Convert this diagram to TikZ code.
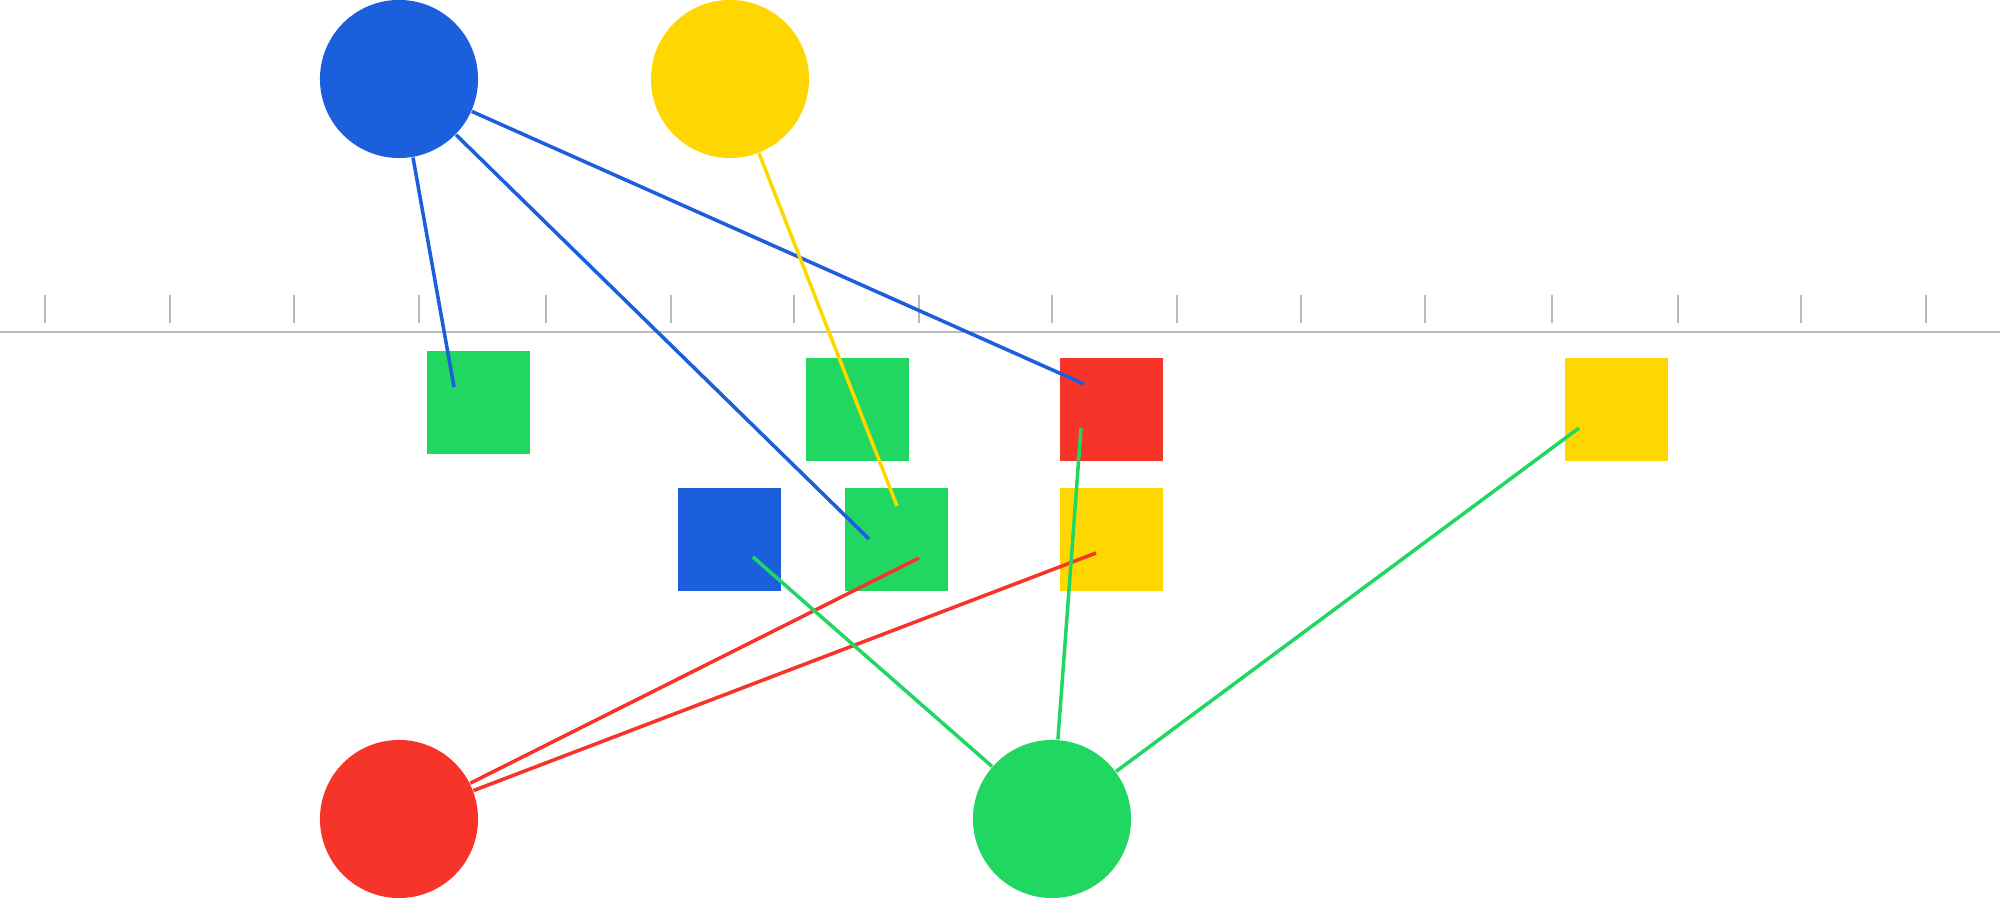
\documentclass[tikz,border=0pt]{standalone}

\definecolor{dotblue}{HTML}{1B5FDC}
\definecolor{dotyellow}{HTML}{FFD700}
\definecolor{dotred}{HTML}{F63429}
\definecolor{dotgreen}{HTML}{20D762}
\definecolor{axisgray}{HTML}{BBBBBB}

\begin{document}
\begin{tikzpicture}[x=0.01cm, y=-0.01cm,
        dot/.style={circle, fill=#1, inner sep=0pt, minimum size=1.58cm},
        box/.style={rectangle, fill=#1, inner sep=0pt, minimum size=1.03cm},
        link/.style={draw=#1, line width=1pt},
        axisline/.style={draw=axisgray, line width=0.55pt}]
            \useasboundingbox (0,0) rectangle (2000,898);

            % axis with ticks
            \draw[axisline] (0,332) -- (2000,332);
            \foreach \x in {45,170,294,419,546,671,794,919,1052,1177,1301,1425,1552,1678,1801,1926}
                \draw[axisline] (\x,295) -- (\x,323);

            % circles
            \node[dot=dotblue]   (cb) at (399,79)  {};
            \node[dot=dotyellow] (cy) at (730,79)  {};
            \node[dot=dotred]    (cr) at (399,819) {};
            \node[dot=dotgreen]  (cg) at (1052,819) {};

            % squares
            \node[box=dotgreen]  (sg1) at (478.5,402.5) {};
            \node[box=dotgreen]  (sg2) at (857.5,409.5) {};
            \node[box=dotred]    (sr)  at (1111.5,409.5) {};
            \node[box=dotyellow] (sy2) at (1616.5,409.5) {};
            \node[box=dotblue]   (sb)  at (729.5,539.5) {};
            \node[box=dotgreen]  (sg3) at (896.5,539.5) {};
            \node[box=dotyellow] (sy1) at (1111.5,539.5) {};

            % line ends inside the squares
            \coordinate (eb1) at (454,387);
            \coordinate (eb2) at (869,539);
            \coordinate (eb3) at (1084,384);
            \coordinate (ey1) at (897,506);
            \coordinate (er1) at (919,558);
            \coordinate (er2) at (1096,553);
            \coordinate (eg1) at (753,557);
            \coordinate (eg2) at (1081,428);
            \coordinate (eg3) at (1579,428);

            \draw[link=dotblue] (cb) -- (eb1);
            \draw[link=dotblue] (cb) -- (eb2);
            \draw[link=dotblue] (cb) -- (eb3);
            \draw[link=dotyellow] (cy) -- (ey1);
            \draw[link=dotred] (cr) -- (er1);
            \draw[link=dotred] (cr) -- (er2);
            \draw[link=dotgreen] (cg) -- (eg1);
            \draw[link=dotgreen] (cg) -- (eg2);
            \draw[link=dotgreen] (cg) -- (eg3);
        \end{tikzpicture}
\end{document}
